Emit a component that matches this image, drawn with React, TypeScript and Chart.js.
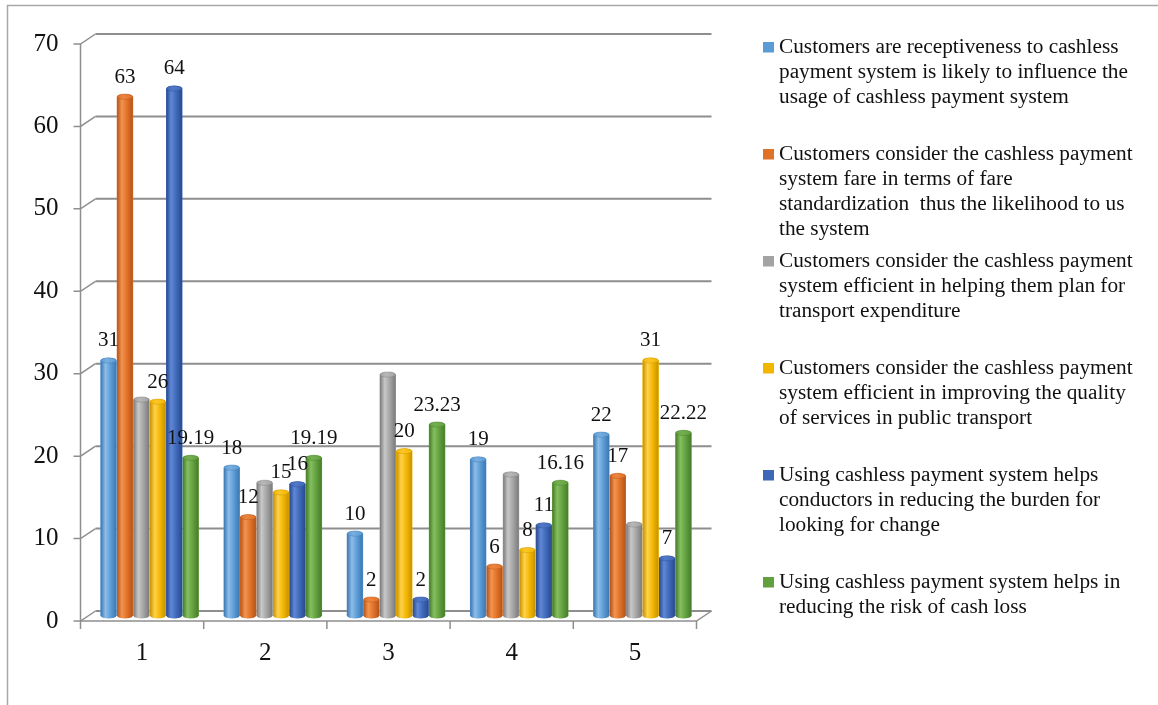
import { useEffect, useRef } from "react";
import { Chart, registerables } from "chart.js";

Chart.register(...registerables);

// Survey response groups along the x axis
const categories = ["1", "2", "3", "4", "5"];

// One array per statement (series)
const receptiveness = [31, 18, 10, 19, 22];
const fareStandard = [63, 12, 2, 6, 17];
const planExpenditure = [26.26, 16.16, 29.29, 17.17, 11.11];
const serviceQuality = [26, 15, 20, 8, 31];
const conductorBurden = [64, 16, 2, 11, 7];
const cashLoss = [19.19, 19.19, 23.23, 16.16, 22.22];

const yTicks = [0, 10, 20, 30, 40, 50, 60, 70];

// Legend captions, pre-wrapped into lines
const seriesNames: string[][] = [
  ["Customers are receptiveness to cashless", "payment system is likely to influence the", "usage of cashless payment system"],
  ["Customers consider the cashless payment", "system fare in terms of fare", "standardization  thus the likelihood to us", "the system"],
  ["Customers consider the cashless payment", "system efficient in helping them plan for", "transport expenditure"],
  ["Customers consider the cashless payment", "system efficient in improving the quality", "of services in public transport"],
  ["Using cashless payment system helps", "conductors in reducing the burden for", "looking for change"],
  ["Using cashless payment system helps in", "reducing the risk of cash loss"],
];

const seriesValues = [receptiveness, fareStandard, planExpenditure, serviceQuality, conductorBurden, cashLoss];
const showValueLabels = [true, true, false, true, true, true];

type Shade = { base: string; light: string; dark: string; cap: string };
const shades: Shade[] = [
  { base: "#5b9bd5", light: "#8dbde9", dark: "#3c77b0", cap: "#7aaee0" },
  { base: "#e07128", light: "#f3944f", dark: "#b4541a", cap: "#ec8540" },
  { base: "#a3a3a3", light: "#c8c8c8", dark: "#7b7b7b", cap: "#b8b8b8" },
  { base: "#f2b600", light: "#ffd24a", dark: "#c89200", cap: "#fcc628" },
  { base: "#3f67b8", light: "#5f88d6", dark: "#2a4a8f", cap: "#5278c8" },
  { base: "#62a03f", light: "#86bf60", dark: "#467d2a", cap: "#74b050" },
];

const FONT = '"Liberation Serif", "Times New Roman", serif';
const GRID = "#8e8e8e";
// depth offset between the middle plane (bars) and the back / front planes
const DX = 7.5;
const DY = 5;

const framePlugin = {
  id: "frameAndWalls",
  beforeDatasetsDraw(chart: any) {
    const { ctx, chartArea: a, scales } = chart;
    const y = scales.y;
    const bl = a.left + DX;
    const br = a.right + DX;
    const fl = a.left - DX;
    const fr = a.right - DX;
    const y0 = y.getPixelForValue(0);
    ctx.save();

    // outer frame (top and left edges)
    ctx.strokeStyle = "#a8a8a8";
    ctx.lineWidth = 1.5;
    ctx.beginPath();
    ctx.moveTo(7.5, 705);
    ctx.lineTo(7.5, 5.5);
    ctx.lineTo(1158, 5.5);
    ctx.stroke();

    // back wall gridlines
    ctx.strokeStyle = GRID;
    ctx.lineWidth = 2;
    for (const v of yTicks) {
      const yp = y.getPixelForValue(v) - DY;
      ctx.beginPath();
      ctx.moveTo(bl, yp);
      ctx.lineTo(br, yp);
      ctx.stroke();
    }

    // side wall edges: tick + diagonal to the back wall
    ctx.lineWidth = 1.5;
    for (const v of yTicks) {
      const yp = y.getPixelForValue(v);
      ctx.beginPath();
      ctx.moveTo(fl - 7, yp + DY);
      ctx.lineTo(fl, yp + DY);
      ctx.lineTo(bl, yp - DY);
      ctx.stroke();
    }

    // front vertical axis
    ctx.beginPath();
    ctx.moveTo(fl, y.getPixelForValue(70) + DY);
    ctx.lineTo(fl, y0 + DY);
    ctx.stroke();

    // floor front edge and right diagonal
    ctx.beginPath();
    ctx.moveTo(fl, y0 + DY);
    ctx.lineTo(fr, y0 + DY);
    ctx.lineTo(br, y0 - DY);
    ctx.stroke();

    // category boundary ticks
    const step = (a.right - a.left) / categories.length;
    for (let i = 0; i <= categories.length; i++) {
      const xp = a.left + i * step - DX;
      ctx.beginPath();
      ctx.moveTo(xp, y0 + DY);
      ctx.lineTo(xp, y0 + DY + 8);
      ctx.stroke();
    }
    ctx.restore();
  },
  afterDatasetsDraw(chart: any) {
    const { ctx } = chart;
    ctx.save();
    // cylinder shading over each bar
    chart.data.datasets.forEach((_ds: any, di: number) => {
      const meta = chart.getDatasetMeta(di);
      const s = shades[di];
      meta.data.forEach((el: any) => {
        const { x: cx, y: top, base, width } = el.getProps(["x", "y", "base", "width"], true);
        const w = width - 1;
        const l = cx - w / 2;
        const r = cx + w / 2;
        const ry = w * 0.17;
        const g = ctx.createLinearGradient(l, 0, r, 0);
        g.addColorStop(0, s.dark);
        g.addColorStop(0.3, s.light);
        g.addColorStop(0.65, s.base);
        g.addColorStop(1, s.dark);
        ctx.fillStyle = g;
        ctx.beginPath();
        ctx.moveTo(l, top);
        ctx.lineTo(l, base);
        ctx.ellipse(cx, base, w / 2, ry, 0, Math.PI, 0, true);
        ctx.lineTo(r, top);
        ctx.ellipse(cx, top, w / 2, ry, 0, 0, -Math.PI, true);
        ctx.closePath();
        ctx.fill();
        // top cap
        const gc = ctx.createLinearGradient(l, 0, r, 0);
        gc.addColorStop(0, s.base);
        gc.addColorStop(0.4, s.cap);
        gc.addColorStop(1, s.base);
        ctx.fillStyle = gc;
        ctx.beginPath();
        ctx.ellipse(cx, top, w / 2, ry, 0, 0, Math.PI * 2);
        ctx.fill();
        ctx.strokeStyle = s.dark;
        ctx.globalAlpha = 0.5;
        ctx.lineWidth = 0.8;
        ctx.stroke();
        ctx.globalAlpha = 1;
      });
    });

    // value labels above the bars
    ctx.fillStyle = "#111";
    ctx.font = `21px ${FONT}`;
    ctx.textAlign = "center";
    ctx.textBaseline = "alphabetic";
    chart.data.datasets.forEach((ds: any, di: number) => {
      if (!showValueLabels[di]) return;
      const meta = chart.getDatasetMeta(di);
      meta.data.forEach((el: any, i: number) => {
        const { x: cx, y: top } = el.getProps(["x", "y"], true);
        ctx.fillText(String(ds.data[i]), cx, top - 14);
      });
    });
    ctx.restore();
  },
  afterDraw(chart: any) {
    const { ctx, chartArea: a, scales } = chart;
    const y = scales.y;
    const x = scales.x;
    const fl = a.left - DX;
    const y0 = y.getPixelForValue(0);
    ctx.save();
    ctx.fillStyle = "#111";

    // y tick labels on the front plane
    ctx.font = `25px ${FONT}`;
    ctx.textAlign = "right";
    ctx.textBaseline = "middle";
    for (const v of yTicks) {
      ctx.fillText(String(v), fl - 22, y.getPixelForValue(v) + DY);
    }

    // category labels
    ctx.textAlign = "center";
    categories.forEach((c, i) => {
      ctx.fillText(c, x.getPixelForValue(i) - DX, y0 + DY + 32);
    });

    // legend
    ctx.font = `21.3px ${FONT}`;
    ctx.textAlign = "left";
    ctx.textBaseline = "alphabetic";
    seriesNames.forEach((lines, i) => {
      const baseY = 53 + i * 107;
      ctx.fillStyle = shades[i].base;
      ctx.fillRect(763, baseY - 11, 11, 10.5);
      ctx.fillStyle = "#111";
      lines.forEach((line, k) => {
        ctx.fillText(line, 779, baseY + k * 25);
      });
    });
    ctx.restore();
  },
};

export default function App() {
  const canvasRef = useRef<HTMLCanvasElement | null>(null);

  useEffect(() => {
    const canvas = canvasRef.current;
    if (!canvas) return;
    const chart = new Chart(canvas, {
      type: "bar",
      data: {
        labels: categories,
        datasets: seriesValues.map((vals, i) => ({
          label: seriesNames[i].join(" "),
          data: vals,
          backgroundColor: shades[i].base,
          borderWidth: 0,
          categoryPercentage: 0.8,
          barPercentage: 1.0,
        })),
      },
      options: {
        responsive: false,
        animation: false,
        devicePixelRatio: 1,
        layout: { padding: { left: 88, right: 454, top: 39, bottom: 89 } },
        plugins: {
          legend: { display: false },
          tooltip: { enabled: false },
          title: { display: false },
        },
        scales: {
          x: { type: "category", offset: true, display: false, grid: { display: false } },
          y: { min: 0, max: 70, display: false, grid: { display: false } },
        },
      },
      plugins: [framePlugin],
    });
    return () => chart.destroy();
  }, []);

  return (
    <div style={{ position: "fixed", left: 0, top: 0, width: 1158, height: 705, background: "#fff" }}>
      <canvas ref={canvasRef} width={1158} height={705} style={{ display: "block" }} />
    </div>
  );
}
